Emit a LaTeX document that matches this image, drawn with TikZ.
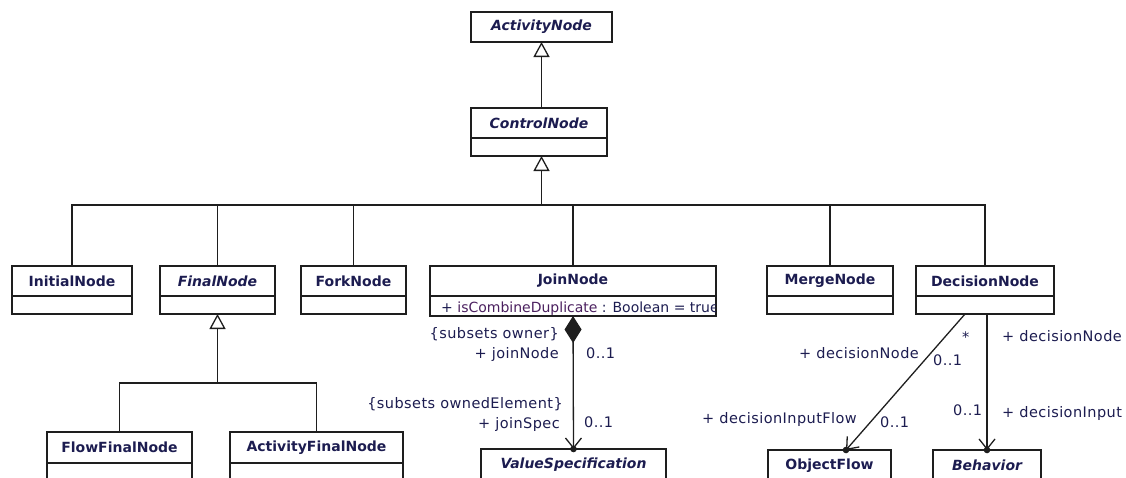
\documentclass[tikz,border=0pt]{standalone}
\usepackage{fontspec}
\setmainfont{DejaVu Sans}
\newfontfamily\lblfont[LetterSpace=3]{DejaVu Sans}
\usetikzlibrary{arrows.meta,calc}
\definecolor{ink}{HTML}{1C1C50}
\definecolor{attr}{HTML}{4A1F5E}
\definecolor{edge}{HTML}{1E1E1E}
\begin{document}
\begin{tikzpicture}[x=1pt,y=-1pt,
  box/.style={draw=edge,line width=1.2pt,rectangle,anchor=north west,inner sep=0pt,outer sep=0pt,
    minimum height=30pt,text=ink,font=\fontsize{14}{16}\selectfont\bfseries},
  cmp/.style={draw=edge,line width=1.2pt,rectangle,anchor=north west,inner sep=0pt,outer sep=0pt,minimum height=18pt},
  gen/.style={draw=edge,line width=1.3pt,-{Triangle[open,length=15pt,width=16pt,fill=white]}},
  link/.style={draw=edge,line width=1.3pt},
  nav/.style={draw=edge,line width=1.3pt,-{Straight Barb[length=10pt,width=16pt]}},
  lbl/.style={text=ink,inner sep=0pt,font=\lblfont\fontsize{14.5}{16}\selectfont},
  attrtext/.style={text=ink,inner sep=0pt,font=\fontsize{14}{16}\selectfont}]
\useasboundingbox (0,0) rectangle (1126,477);
\clip (0,0) rectangle (1126,477);

% abstract ancestors
\node[box,minimum width=141pt] (an) at (471,12) {\itshape ActivityNode};
\node[box,minimum width=136pt] (cn) at (471,108) {\itshape ControlNode};
\node[cmp,minimum width=136pt] (cnc) at (cn.south west) {};

% concrete control nodes
\node[box,minimum width=120pt] (in) at (12,266) {InitialNode};
\node[cmp,minimum width=120pt] (inc) at (in.south west) {};
\node[box,minimum width=115pt] (fn) at (160,266) {\itshape FinalNode};
\node[cmp,minimum width=115pt] (fnc) at (fn.south west) {};
\node[box,minimum width=105pt] (fk) at (301,266) {ForkNode};
\node[cmp,minimum width=105pt] (fkc) at (fk.south west) {};
\node[box,minimum width=286pt] (jn) at (430,266) {JoinNode};
\node[cmp,minimum width=286pt,minimum height=20pt] (jnc) at (jn.south west) {};
\node[box,minimum width=126pt] (mn) at (767,266) {MergeNode};
\node[cmp,minimum width=126pt] (mnc) at (mn.south west) {};
\node[box,minimum width=138pt] (dn) at (916,266) {DecisionNode};
\node[cmp,minimum width=138pt] (dnc) at (dn.south west) {};

% final node specialisations
\node[box,minimum width=145pt,minimum height=31pt] (ffn) at (47,432) {FlowFinalNode};
\node[cmp,minimum width=145pt,minimum height=30pt] (ffnc) at (ffn.south west) {};
\node[box,minimum width=173pt,minimum height=31pt] (afn) at (230,432) {ActivityFinalNode};
\node[cmp,minimum width=173pt,minimum height=30pt] (afnc) at (afn.south west) {};

% associated classes
\node[box,minimum width=185pt,minimum height=31pt] (vs) at (481,449) {\itshape ValueSpecification};
\node[cmp,minimum width=185pt,minimum height=30pt] (vsc) at (vs.south west) {};
\node[box,minimum width=123pt,minimum height=31pt] (of) at (768,450) {ObjectFlow};
\node[cmp,minimum width=123pt,minimum height=30pt] (ofc) at (of.south west) {};
\node[box,minimum width=108pt,minimum height=31pt] (bh) at (933,450) {\itshape Behavior};
\node[cmp,minimum width=108pt,minimum height=30pt] (bhc) at (bh.south west) {};

% attribute of JoinNode, cut at the compartment edge
\begin{scope}
  \clip ([xshift=0.6pt,yshift=-0.6pt]jnc.north west) rectangle ([xshift=-0.6pt,yshift=0.6pt]jnc.south east);
  \node[attrtext,anchor=base west] (att) at (441,312) {+ \textcolor{attr}{isCombineDuplicate} : Boolean = true};
\end{scope}

% generalisations
\draw[gen] (an.south |- cn.north) -- (an.south);
\coordinate (busy) at (0,205);
\coordinate (bus) at (an.south |- busy);
\draw[gen] (bus) -- (bus |- cnc.south);
\draw[link] (in.north) |- (bus) -| (dn.north);
\foreach \n in {fn,fk,jn,mn} \draw[link] (\n.north) -- (\n.north |- bus);

\coordinate (fbusy) at (0,383);
\coordinate (fbus) at (fnc.south |- fbusy);
\draw[gen] (fbus) -- (fnc.south);
\draw[link] (ffn.north) |- (fbus) -| (afn.north);

% composition JoinNode -> ValueSpecification
\draw[link,{Diamond[length=27pt,width=17pt]}-{Straight Barb[length=10pt,width=16pt]}] (jnc.south) -- (vs.north);
\fill[edge] (vs.north) circle (3.3pt);

% DecisionNode associations
\coordinate (d1) at ($(dnc.south west)+(49,0)$);
\coordinate (d2) at ($(of.north west)+(78,0)$);
\draw[nav] (d1) -- (d2);
\fill[edge] (d2) circle (3.3pt);
\draw[nav] (dnc.south -| bh.north) -- (bh.north);
\fill[edge] (bh.north) circle (3.3pt);

% association end labels
\node[lbl,anchor=base east] (l1) at (559,338) {\{subsets owner\}};
\node[lbl,anchor=base east] (l2) at (559,358) {+ joinNode};
\node[lbl,anchor=base west] (l3) at (586,358) {0..1};
\node[lbl,anchor=base east] (l4) at (563,408) {\{subsets ownedElement\}};
\node[lbl,anchor=base east] (l5) at (560,428) {+ joinSpec};
\node[lbl,anchor=base west] (l6) at (584,427) {0..1};
\node[lbl,anchor=base west] (l7) at (962,342) {*};
\node[lbl,anchor=base east] (l8) at (919,358) {+ decisionNode};
\node[lbl,anchor=base west] (l9) at (933,365) {0..1};
\node[lbl,anchor=base east] (l10) at (857,423) {+ decisionInputFlow};
\node[lbl,anchor=base west] (l11) at (880,427) {0..1};
\node[lbl,anchor=base west] (l12) at (1002,341) {+ decisionNode};
\node[lbl,anchor=base west] (l13) at (953,415) {0..1};
\node[lbl,anchor=base west] (l14) at (1002,417) {+ decisionInput};
\end{tikzpicture}
\end{document}
